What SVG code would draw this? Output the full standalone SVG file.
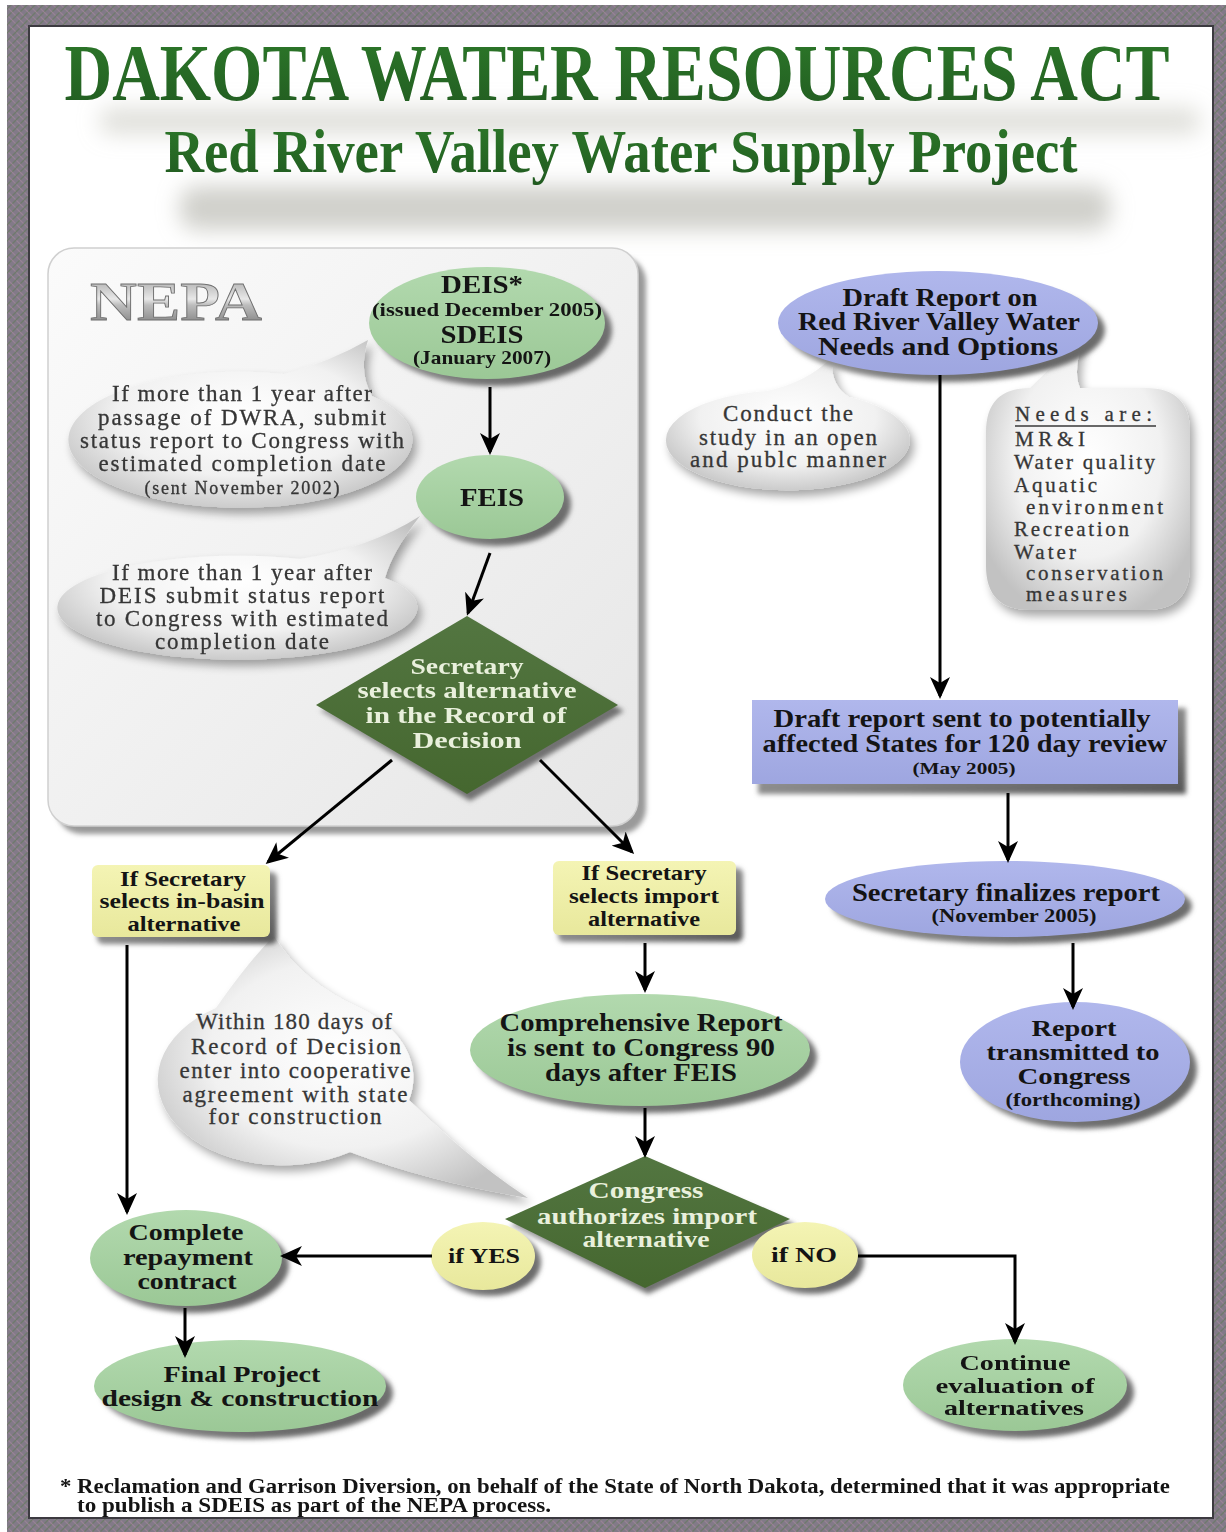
<svg xmlns="http://www.w3.org/2000/svg" width="1226" height="1532" viewBox="0 0 1226 1532">
<defs>
<style>
.t{font-family:"Liberation Serif","Times New Roman",serif;font-weight:bold;fill:#141414;text-anchor:middle;font-size:25px}
.s{font-size:19px}
.b{font-family:"Liberation Serif","Times New Roman",serif;fill:#363636;stroke:#363636;stroke-width:0.3;text-anchor:middle;font-size:23px}
.bn{font-size:21px}
.bl{text-anchor:start}
.w{font-family:"Liberation Serif","Times New Roman",serif;font-weight:bold;fill:#e9f0dc;text-anchor:middle;font-size:24px}
.conn{stroke:#000;stroke-width:3;fill:none;marker-end:url(#ah)}
.green{fill:url(#gGreen)}
.blue{fill:url(#gBlue)}
.yellow{fill:url(#gYellow)}
.dgreen{fill:url(#gDark)}
.shadow{fill:url(#gShadow);filter:url(#blur2)}
.bubble{fill:url(#gBubble);filter:url(#drop)}
.fn{font-family:"Liberation Serif","Times New Roman",serif;font-weight:bold;fill:#141414;font-size:20px}
.ttl{font-family:"Liberation Serif","Times New Roman",serif;font-weight:bold;text-anchor:middle;fill:url(#gTitle)}
</style>
<marker id="ah" markerUnits="userSpaceOnUse" markerWidth="22" markerHeight="20" refX="19" refY="10" orient="auto">
<path d="M0,0 L22,10 L0,20 L6,10 Z" fill="#000"/>
</marker>
<pattern id="weave" width="8" height="8" patternUnits="userSpaceOnUse">
<rect width="8" height="8" fill="#827a88"/>
<path d="M0,8 L8,0" stroke="#6f7a6c" stroke-width="1.3"/>
<path d="M0,0 L8,8" stroke="#9a8396" stroke-width="1.1"/>
<path d="M-2,2 L2,-2 M6,10 L10,6" stroke="#6f7a6c" stroke-width="1.3"/>
</pattern>
<linearGradient id="gGreen" x1="0" y1="0" x2="0" y2="1"><stop offset="0" stop-color="#b2d9ae"/><stop offset="1" stop-color="#9bc896"/></linearGradient>
<linearGradient id="gBlue" x1="0" y1="0" x2="0" y2="1"><stop offset="0" stop-color="#b0b7ec"/><stop offset="1" stop-color="#9ea6e0"/></linearGradient>
<linearGradient id="gYellow" x1="0" y1="0" x2="0" y2="1"><stop offset="0" stop-color="#f4f4b4"/><stop offset="1" stop-color="#e8e89c"/></linearGradient>
<linearGradient id="gDark" x1="0" y1="0" x2="0" y2="1"><stop offset="0" stop-color="#537641"/><stop offset="1" stop-color="#45672f"/></linearGradient>
<linearGradient id="gShadow" x1="0" y1="0" x2="1" y2="1"><stop offset="0" stop-color="#bdbdbd"/><stop offset="1" stop-color="#555"/></linearGradient>
<radialGradient id="gBubble" cx="0.5" cy="0.45" r="0.6"><stop offset="0" stop-color="#ffffff"/><stop offset="0.6" stop-color="#f1f1f1"/><stop offset="1" stop-color="#c2c2c2"/></radialGradient>
<linearGradient id="gPanel" x1="0" y1="0" x2="1" y2="1"><stop offset="0" stop-color="#fbfbfb"/><stop offset="1" stop-color="#e6e6e6"/></linearGradient>
<linearGradient id="gNepa" x1="0" y1="0" x2="0" y2="1"><stop offset="0" stop-color="#9a9a9a"/><stop offset="0.45" stop-color="#e8e8e8"/><stop offset="0.55" stop-color="#bdbdbd"/><stop offset="1" stop-color="#6e6e6e"/></linearGradient>
<linearGradient id="gTitle" x1="0" y1="0" x2="0" y2="1"><stop offset="0" stop-color="#2d7a2a"/><stop offset="1" stop-color="#215a20"/></linearGradient>
<filter id="blur2" x="-10%" y="-10%" width="120%" height="130%"><feGaussianBlur stdDeviation="2.5"/></filter>
<filter id="blurBig" x="-20%" y="-100%" width="140%" height="300%"><feGaussianBlur stdDeviation="11"/></filter>
<filter id="drop" x="-15%" y="-15%" width="135%" height="140%"><feGaussianBlur in="SourceAlpha" stdDeviation="5"/><feOffset dx="4" dy="6" result="o"/><feComponentTransfer in="o" result="s"><feFuncA type="linear" slope="0.35"/></feComponentTransfer><feMerge><feMergeNode in="s"/><feMergeNode in="SourceGraphic"/></feMerge></filter>
</defs>

<g id="frame">
<rect x="0" y="0" width="1226" height="1532" fill="#ffffff"/>
<rect x="7" y="5" width="1219" height="1527" fill="url(#weave)"/>
<rect x="28" y="25" width="1186" height="1494" fill="#3c3a40"/>
<rect x="30" y="27" width="1182" height="1490" fill="#ffffff"/>
</g>

<g id="title">
<g filter="url(#blurBig)">
<rect x="100" y="108" width="1100" height="26" rx="10" fill="#c4c4bc" opacity="0.55"/>
<rect x="180" y="186" width="930" height="44" rx="16" fill="#b0b0a8" opacity="0.6"/>
</g>
<text class="ttl" transform="translate(617,100) scale(1,1.22)" x="0" y="0" font-size="66" textLength="1105" lengthAdjust="spacingAndGlyphs">DAKOTA WATER RESOURCES ACT</text>
<text class="ttl" transform="translate(621,172) scale(1,1.18)" x="0" y="0" font-size="52" textLength="913" lengthAdjust="spacingAndGlyphs">Red River Valley Water Supply Project</text>
</g>

<g id="nepa-panel">
<rect x="56" y="256" width="590" height="578" rx="26" fill="#9a9a9a" filter="url(#blur2)"/>
<rect x="48" y="248" width="590" height="578" rx="26" fill="url(#gPanel)" stroke="#d0d0d0" stroke-width="1.5"/>
<text x="176" y="320" font-family="Liberation Serif, serif" font-weight="bold" font-size="54" text-anchor="middle" fill="url(#gNepa)" stroke="#707070" stroke-width="0.8" textLength="172" lengthAdjust="spacingAndGlyphs">NEPA</text>
</g>

<g id="bubble-dwra">
<path class="bubble" d="M372,396 A172 68 0 1 1 284,374 Q330,362 368,340 Q358,372 372,396 Z"/>
<text class="b" x="242" y="401" textLength="260" lengthAdjust="spacing">If more than 1 year after</text>
<text class="b" x="242" y="425" textLength="288" lengthAdjust="spacing">passage of DWRA, submit</text>
<text class="b" x="242" y="448" textLength="324" lengthAdjust="spacing">status report to Congress with</text>
<text class="b" x="242" y="471" textLength="287" lengthAdjust="spacing">estimated completion date</text>
<text class="b" x="242" y="494" style="font-size:18px" textLength="195" lengthAdjust="spacing">(sent November 2002)</text>
</g>

<g id="bubble-deis">
<path class="bubble" d="M385,578 A180 52 0 1 1 300,559 Q370,548 420,516 Q392,552 385,578 Z"/>
<text class="b" x="242" y="580" textLength="260" lengthAdjust="spacing">If more than 1 year after</text>
<text class="b" x="242" y="603" textLength="285" lengthAdjust="spacing">DEIS submit status report</text>
<text class="b" x="242" y="626" textLength="292" lengthAdjust="spacing">to Congress with estimated</text>
<text class="b" x="242" y="649" textLength="174" lengthAdjust="spacing">completion date</text>
</g>

<g id="node-deis">
<ellipse class="shadow" cx="494" cy="330" rx="118" ry="56"/>
<ellipse class="green" cx="487" cy="323" rx="118" ry="56"/>
<text class="t" x="482" y="293" textLength="82" lengthAdjust="spacingAndGlyphs">DEIS*</text>
<text class="t s" x="487" y="316" textLength="230" lengthAdjust="spacingAndGlyphs">(issued December 2005)</text>
<text class="t" x="482" y="343" textLength="83" lengthAdjust="spacingAndGlyphs">SDEIS</text>
<text class="t s" x="482" y="364" textLength="138" lengthAdjust="spacingAndGlyphs">(January 2007)</text>
</g>

<g id="node-feis">
<ellipse class="shadow" cx="497" cy="504" rx="74" ry="42"/>
<ellipse class="green" cx="490" cy="497" rx="74" ry="42"/>
<text class="t" x="492" y="506" textLength="64" lengthAdjust="spacingAndGlyphs">FEIS</text>
</g>

<g id="node-secretary-decision">
<polygon class="shadow" points="470,622 624,711 470,801 320,711"/>
<polygon class="dgreen" points="467,616 618,705 467,794 316,705"/>
<text class="w" x="467" y="674" textLength="113" lengthAdjust="spacingAndGlyphs">Secretary</text>
<text class="w" x="467" y="698" textLength="219" lengthAdjust="spacingAndGlyphs">selects alternative</text>
<text class="w" x="466" y="723" textLength="201" lengthAdjust="spacingAndGlyphs">in the Record of</text>
<text class="w" x="467" y="748" textLength="109" lengthAdjust="spacingAndGlyphs">Decision</text>
</g>

<g id="bubble-open">
<path class="bubble" d="M849,397 A122 50 0 1 1 767,391 Q808,382 832,357 Q830,386 849,397 Z"/>
<text class="b" x="788" y="421" textLength="130" lengthAdjust="spacing">Conduct the</text>
<text class="b" x="788" y="445" textLength="178" lengthAdjust="spacing">study in an open</text>
<text class="b" x="788" y="467" textLength="196" lengthAdjust="spacing">and publc manner</text>
</g>

<g id="bubble-needs">
<path class="bubble" d="M1030,388 L1085,334 Q1072,370 1080,388 L1146,388 Q1190,388 1190,432 L1190,566 Q1190,610 1146,610 L1030,610 Q986,610 986,566 L986,432 Q986,388 1030,388 Z"/>
<text class="b bn bl" x="1015" y="421" textLength="137" lengthAdjust="spacing">Needs are:</text>
<text class="b bn bl" x="1015" y="446" textLength="70" lengthAdjust="spacing">MR&amp;I</text>
<text class="b bn bl" x="1014" y="469" textLength="141" lengthAdjust="spacing">Water quality</text>
<text class="b bn bl" x="1014" y="492" textLength="83" lengthAdjust="spacing">Aquatic</text>
<text class="b bn bl" x="1026" y="514" textLength="137" lengthAdjust="spacing">environment</text>
<text class="b bn bl" x="1014" y="536" textLength="115" lengthAdjust="spacing">Recreation</text>
<text class="b bn bl" x="1014" y="559" textLength="62" lengthAdjust="spacing">Water</text>
<text class="b bn bl" x="1026" y="580" textLength="137" lengthAdjust="spacing">conservation</text>
<text class="b bn bl" x="1026" y="601" textLength="101" lengthAdjust="spacing">measures</text>
<line x1="1015" y1="426" x2="1156" y2="426" stroke="#383838" stroke-width="1.5"/>
</g>

<g id="node-draft-report">
<ellipse class="shadow" cx="945" cy="330" rx="160" ry="52"/>
<ellipse class="blue" cx="938" cy="323" rx="160" ry="52"/>
<text class="t" x="940" y="306" textLength="195" lengthAdjust="spacingAndGlyphs">Draft Report on</text>
<text class="t" x="939" y="330" textLength="282" lengthAdjust="spacingAndGlyphs">Red River Valley Water</text>
<text class="t" x="938" y="355" textLength="240" lengthAdjust="spacingAndGlyphs">Needs and Options</text>
</g>

<g id="node-states-review">
<rect class="shadow" x="758" y="708" width="428" height="86"/>
<rect class="blue" x="752" y="700" width="426" height="84"/>
<text class="t" x="962" y="727" textLength="377" lengthAdjust="spacingAndGlyphs">Draft report sent to potentially</text>
<text class="t" x="965" y="752" textLength="405" lengthAdjust="spacingAndGlyphs">affected States for 120 day review</text>
<text class="t" x="964" y="774" style="font-size:17px" textLength="103" lengthAdjust="spacingAndGlyphs">(May 2005)</text>
</g>

<g id="node-finalize">
<ellipse class="shadow" cx="1012" cy="906" rx="180" ry="38"/>
<ellipse class="blue" cx="1005" cy="899" rx="180" ry="38"/>
<text class="t" x="1006" y="901" textLength="308" lengthAdjust="spacingAndGlyphs">Secretary finalizes report</text>
<text class="t" x="1014" y="922" style="font-size:18px" textLength="165" lengthAdjust="spacingAndGlyphs">(November 2005)</text>
</g>

<g id="node-transmitted">
<ellipse class="shadow" cx="1082" cy="1069" rx="115" ry="60"/>
<ellipse class="blue" cx="1075" cy="1062" rx="115" ry="60"/>
<text class="t" x="1074" y="1036" style="font-size:24px" textLength="85" lengthAdjust="spacingAndGlyphs">Report</text>
<text class="t" x="1073" y="1060" style="font-size:24px" textLength="173" lengthAdjust="spacingAndGlyphs">transmitted to</text>
<text class="t" x="1074" y="1084" style="font-size:24px" textLength="113" lengthAdjust="spacingAndGlyphs">Congress</text>
<text class="t" x="1073" y="1106" style="font-size:18px" textLength="135" lengthAdjust="spacingAndGlyphs">(forthcoming)</text>
</g>

<g id="bubble-180">
<path class="bubble" d="M216,1008 Q248,962 274,936 Q302,982 360,1008 A125 85 0 0 1 409,1100 Q470,1160 528,1198 Q430,1182 350,1152 A125 85 0 0 1 216,1008 Z"/>
<text class="b" x="294" y="1029" textLength="196" lengthAdjust="spacing">Within 180 days of</text>
<text class="b" x="296" y="1054" textLength="210" lengthAdjust="spacing">Record of Decision</text>
<text class="b" x="295" y="1078" textLength="231" lengthAdjust="spacing">enter into cooperative</text>
<text class="b" x="295" y="1102" textLength="225" lengthAdjust="spacing">agreement with state</text>
<text class="b" x="295" y="1124" textLength="173" lengthAdjust="spacing">for construction</text>
</g>

<g id="node-inbasin">
<rect class="shadow" x="97" y="872" width="180" height="72" rx="6"/>
<rect class="yellow" x="92" y="865" width="178" height="72" rx="6"/>
<text class="t" x="183" y="886" style="font-size:22px" textLength="126" lengthAdjust="spacingAndGlyphs">If Secretary</text>
<text class="t" x="182" y="908" style="font-size:22px" textLength="165" lengthAdjust="spacingAndGlyphs">selects in-basin</text>
<text class="t" x="184" y="931" style="font-size:22px" textLength="113" lengthAdjust="spacingAndGlyphs">alternative</text>
</g>

<g id="node-import">
<rect class="shadow" x="558" y="868" width="185" height="74" rx="6"/>
<rect class="yellow" x="553" y="861" width="183" height="74" rx="6"/>
<text class="t" x="644" y="880" style="font-size:22px" textLength="125" lengthAdjust="spacingAndGlyphs">If Secretary</text>
<text class="t" x="644" y="903" style="font-size:22px" textLength="150" lengthAdjust="spacingAndGlyphs">selects import</text>
<text class="t" x="644" y="926" style="font-size:22px" textLength="112" lengthAdjust="spacingAndGlyphs">alternative</text>
</g>

<g id="node-comprehensive">
<ellipse class="shadow" cx="647" cy="1057" rx="170" ry="56"/>
<ellipse class="green" cx="640" cy="1050" rx="170" ry="56"/>
<text class="t" x="641" y="1031" textLength="283" lengthAdjust="spacingAndGlyphs">Comprehensive Report</text>
<text class="t" x="641" y="1056" textLength="268" lengthAdjust="spacingAndGlyphs">is sent to Congress 90</text>
<text class="t" x="641" y="1081" textLength="192" lengthAdjust="spacingAndGlyphs">days after FEIS</text>
</g>

<g id="node-congress-decision">
<polygon class="shadow" points="648,1162 796,1225 648,1294 510,1225"/>
<polygon class="dgreen" points="645,1156 790,1219 645,1288 505,1219"/>
<text class="w" x="646" y="1198" textLength="115" lengthAdjust="spacingAndGlyphs">Congress</text>
<text class="w" x="647" y="1224" textLength="220" lengthAdjust="spacingAndGlyphs">authorizes import</text>
<text class="w" x="646" y="1247" textLength="127" lengthAdjust="spacingAndGlyphs">alternative</text>
</g>

<g id="label-yes">
<ellipse class="shadow" cx="489" cy="1262" rx="52" ry="34"/>
<ellipse class="yellow" cx="483" cy="1256" rx="52" ry="34"/>
<text class="t" x="484" y="1263" style="font-size:22px" textLength="72" lengthAdjust="spacingAndGlyphs">if YES</text>
</g>

<g id="label-no">
<ellipse class="shadow" cx="811" cy="1261" rx="53" ry="33"/>
<ellipse class="yellow" cx="805" cy="1255" rx="53" ry="33"/>
<text class="t" x="804" y="1262" style="font-size:22px" textLength="66" lengthAdjust="spacingAndGlyphs">if NO</text>
</g>

<g id="node-repayment">
<ellipse class="shadow" cx="193" cy="1265" rx="96" ry="48"/>
<ellipse class="green" cx="186" cy="1258" rx="96" ry="48"/>
<text class="t" x="186" y="1240" style="font-size:24px" textLength="115" lengthAdjust="spacingAndGlyphs">Complete</text>
<text class="t" x="188" y="1265" style="font-size:24px" textLength="130" lengthAdjust="spacingAndGlyphs">repayment</text>
<text class="t" x="187" y="1289" style="font-size:24px" textLength="99" lengthAdjust="spacingAndGlyphs">contract</text>
</g>

<g id="node-final">
<ellipse class="shadow" cx="247" cy="1393" rx="146" ry="46"/>
<ellipse class="green" cx="240" cy="1386" rx="146" ry="46"/>
<text class="t" x="242" y="1382" style="font-size:24px" textLength="157" lengthAdjust="spacingAndGlyphs">Final Project</text>
<text class="t" x="240" y="1406" style="font-size:24px" textLength="277" lengthAdjust="spacingAndGlyphs">design &amp; construction</text>
</g>

<g id="node-continue">
<ellipse class="shadow" cx="1022" cy="1392" rx="112" ry="46"/>
<ellipse class="green" cx="1015" cy="1385" rx="112" ry="46"/>
<text class="t" x="1015" y="1370" style="font-size:22px" textLength="111" lengthAdjust="spacingAndGlyphs">Continue</text>
<text class="t" x="1015" y="1393" style="font-size:22px" textLength="159" lengthAdjust="spacingAndGlyphs">evaluation of</text>
<text class="t" x="1014" y="1415" style="font-size:22px" textLength="140" lengthAdjust="spacingAndGlyphs">alternatives</text>
</g>

<g id="connectors">
<line class="conn" x1="490" y1="387" x2="490" y2="452"/>
<line class="conn" x1="490" y1="553" x2="468" y2="613"/>
<line class="conn" x1="392" y1="760" x2="268" y2="862"/>
<line class="conn" x1="540" y1="760" x2="632" y2="852"/>
<line class="conn" x1="645" y1="943" x2="645" y2="990"/>
<line class="conn" x1="645" y1="1108" x2="645" y2="1155"/>
<line class="conn" x1="432" y1="1256" x2="283" y2="1256"/>
<polyline class="conn" points="858,1256 1015,1256 1015,1342"/>
<line class="conn" x1="127" y1="945" x2="127" y2="1212"/>
<line class="conn" x1="185" y1="1308" x2="185" y2="1355"/>
<line class="conn" x1="940" y1="375" x2="940" y2="696"/>
<line class="conn" x1="1008" y1="793" x2="1008" y2="860"/>
<line class="conn" x1="1073" y1="943" x2="1073" y2="1007"/>
</g>

<g id="footnote">
<text class="fn" x="60" y="1493" textLength="1110" lengthAdjust="spacingAndGlyphs">* Reclamation and Garrison Diversion, on behalf of the State of North Dakota, determined that it was appropriate</text>
<text class="fn" x="77" y="1512" textLength="474" lengthAdjust="spacingAndGlyphs">to publish a SDEIS as part of the NEPA process.</text>
</g>
</svg>
